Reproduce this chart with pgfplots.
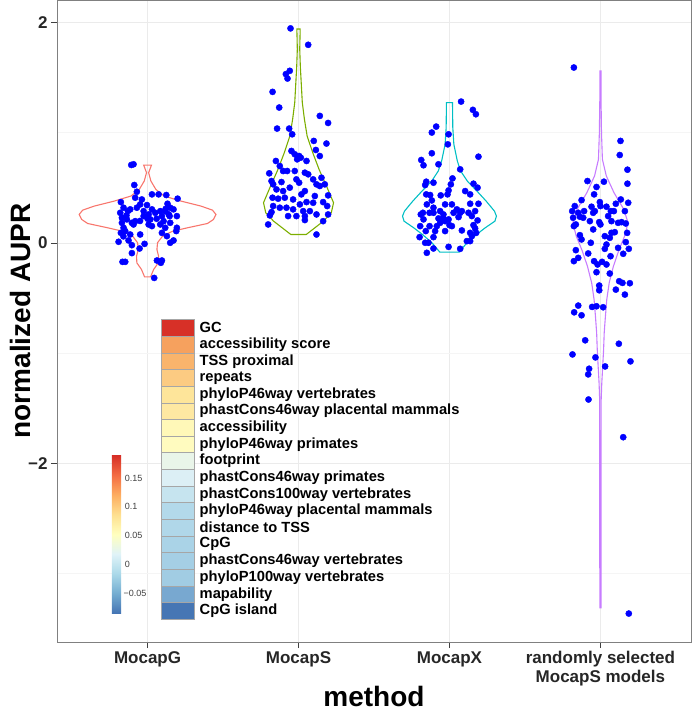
\documentclass[border=0pt]{standalone}
\usepackage{pgfplots}
\pgfplotsset{compat=1.18}
\usepackage{fontspec}
\setmainfont{Liberation Sans}
\definecolor{vG}{HTML}{F8766D}
\definecolor{vS}{HTML}{7CAE00}
\definecolor{vX}{HTML}{00BFC4}
\definecolor{vR}{HTML}{C77CFF}
\definecolor{ptblue}{HTML}{0000FF}
\definecolor{cb1}{HTML}{4575B4}
\definecolor{cb2}{HTML}{74ADD1}
\definecolor{cb3}{HTML}{ABD9E9}
\definecolor{cb4}{HTML}{E0F3F8}
\definecolor{cb5}{HTML}{FFFFBF}
\definecolor{cb6}{HTML}{FEE090}
\definecolor{cb7}{HTML}{FDAE61}
\definecolor{cb8}{HTML}{F46D43}
\definecolor{cb9}{HTML}{D73027}
\pgfdeclareverticalshading{rdylbu}{100bp}{color(0bp)=(cb1); color(25bp)=(cb1); color(31.25bp)=(cb2); color(37.5bp)=(cb3); color(43.75bp)=(cb4); color(50bp)=(cb5); color(56.25bp)=(cb6); color(62.5bp)=(cb7); color(68.75bp)=(cb8); color(75bp)=(cb9); color(100bp)=(cb9)}
\definecolor{t1}{HTML}{D73027}
\definecolor{t2}{HTML}{F6A15E}
\definecolor{t3}{HTML}{F9B46C}
\definecolor{t4}{HTML}{FCCB82}
\definecolor{t5}{HTML}{FEE59A}
\definecolor{t6}{HTML}{FEE8A2}
\definecolor{t7}{HTML}{FFF8B8}
\definecolor{t8}{HTML}{FFFBBF}
\definecolor{t9}{HTML}{E9F5E9}
\definecolor{t10}{HTML}{DCEFF5}
\definecolor{t11}{HTML}{C6E4EF}
\definecolor{t12}{HTML}{B3D9EA}
\definecolor{t13}{HTML}{B0D7E9}
\definecolor{t14}{HTML}{AAD3E7}
\definecolor{t15}{HTML}{A5CFE5}
\definecolor{t16}{HTML}{A1CCE3}
\definecolor{t17}{HTML}{78A8D0}
\definecolor{t18}{HTML}{4676B4}
\newcommand{\tile}[4]{%
  \addplot[fill=#1, draw=black!35, line width=0.5pt] coordinates {(1.089,#2) (1.309,#2) (1.309,#3) (1.089,#3)} -- cycle;
  \node[anchor=west, inner sep=0pt, font=\fontsize{14.7}{15}\selectfont\bfseries] at (axis cs:1.344,{(#2+#3)/2}) {#4};}
\begin{document}
\begin{tikzpicture}
\begin{axis}[
  at={(57pt,71pt)}, anchor=south west,
  scale only axis, width=634pt, height=641.5pt,
  xmin=0.4, xmax=4.6, ymin=-3.62, ymax=2.2,
  xtick={1,2,3,4},
  xticklabels={MocapG, MocapS, MocapX, {randomly selected\\MocapS models}},
  xticklabel style={align=center, font=\fontsize{17}{19}\selectfont\bfseries, text=black!85},
  ytick={-2,0,2}, yticklabels={−2,0,2},
  yticklabel style={font=\fontsize{17}{17}\selectfont\bfseries, text=black!85},
  minor ytick={-3,-1,1},
  xmajorgrids, ymajorgrids, yminorgrids,
  major grid style={draw=black!8, line width=0.7pt},
  minor grid style={draw=black!4, line width=0.6pt},
  tick align=outside, tick pos=left,
  major tick length=6pt, minor tick length=0pt,
  tick style={black!75, line width=0.7pt},
  axis line style={black!50, line width=0.9pt},
]
% violins
\addplot[vG, line width=1.1pt] coordinates {
(1.020,-0.307) (1.040,-0.241) (1.071,-0.180) (1.073,-0.120) (1.062,-0.059) (1.066,0.002) (1.099,0.062) (1.166,0.107) (1.265,0.138) (1.397,0.177) (1.437,0.214) (1.453,0.259) (1.430,0.298) (1.353,0.335) (1.221,0.380) (1.110,0.426) (1.055,0.486) (1.022,0.562) (1.007,0.638) (1.026,0.707)
(0.974,0.707) (0.993,0.638) (0.978,0.562) (0.945,0.486) (0.890,0.426) (0.779,0.380) (0.647,0.335) (0.570,0.298) (0.547,0.259) (0.563,0.214) (0.603,0.177) (0.735,0.138) (0.834,0.107) (0.901,0.062) (0.934,0.002) (0.938,-0.059) (0.927,-0.120) (0.929,-0.180) (0.960,-0.241) (0.980,-0.307)} -- cycle;
\addplot[vS, line width=1.1pt] coordinates {
(2.051,0.077) (2.166,0.199) (2.217,0.274) (2.232,0.365) (2.185,0.517) (2.136,0.668) (2.094,0.820) (2.057,0.971) (2.039,1.123) (2.025,1.275) (2.019,1.426) (2.012,1.600) (2.008,1.759) (2.011,1.941)
(1.989,1.941) (1.992,1.759) (1.988,1.600) (1.981,1.426) (1.975,1.275) (1.961,1.123) (1.943,0.971) (1.906,0.820) (1.864,0.668) (1.815,0.517) (1.768,0.365) (1.783,0.274) (1.834,0.199) (1.949,0.077)} -- cycle;
\addplot[vX, line width=1.1pt] coordinates {
(3.064,-0.083) (3.116,0.002) (3.179,0.077) (3.237,0.138) (3.301,0.198) (3.311,0.244) (3.298,0.289) (3.243,0.380) (3.182,0.471) (3.118,0.562) (3.074,0.653) (3.052,0.744) (3.029,0.895) (3.022,1.047) (3.020,1.274)
(2.980,1.274) (2.978,1.047) (2.971,0.895) (2.948,0.744) (2.926,0.653) (2.882,0.562) (2.818,0.471) (2.757,0.380) (2.702,0.289) (2.689,0.244) (2.699,0.198) (2.763,0.138) (2.821,0.077) (2.884,0.002) (2.936,-0.083)} -- cycle;
\addplot[vR, line width=1.1pt] coordinates {
(4.004,-3.31) (4.005,-1.42) (4.009,-1.27) (4.015,-1.12) (4.021,-0.968) (4.025,-0.816) (4.033,-0.665) (4.042,-0.514) (4.058,-0.362) (4.086,-0.211) (4.121,-0.07) (4.160,0.062) (4.183,0.183) (4.155,0.305) (4.090,0.456) (4.039,0.608) (4.013,0.759) (4.007,1.002) (4.004,1.305) (4.004,1.562)
(3.996,1.562) (3.996,1.305) (3.993,1.002) (3.987,0.759) (3.961,0.608) (3.910,0.456) (3.845,0.305) (3.817,0.183) (3.840,0.062) (3.879,-0.07) (3.914,-0.211) (3.942,-0.362) (3.958,-0.514) (3.967,-0.665) (3.975,-0.816) (3.979,-0.968) (3.985,-1.12) (3.991,-1.27) (3.995,-1.42) (3.996,-3.31)} -- cycle;
% points
\addplot[only marks, mark=*, mark size=3.1pt, ptblue, mark options={draw=none, fill=ptblue}] coordinates {
(0.892,0.708) (0.907,0.714) (0.912,0.526) (0.929,0.465) (1.029,0.441) (1.073,0.441) (1.124,0.435) (1.199,0.402)
(0.823,0.371) (0.918,0.411) (0.962,0.395) (0.951,0.350)
(0.841,0.320) (0.885,0.305) (0.929,0.320) (0.996,0.344) (0.974,0.289) (1.029,0.305) (1.051,0.274) (1.084,0.289) (1.117,0.289) (1.132,0.356) (1.150,0.320) (1.172,0.305) (1.146,0.244)
(0.819,0.274) (0.830,0.229) (0.863,0.214) (0.896,0.183) (0.918,0.198) (0.974,0.244) (1.007,0.259) (1.018,0.214) (1.095,0.244) (1.106,0.198) (1.194,0.244)
(0.830,0.183) (0.841,0.138) (0.907,0.168) (1.007,0.168) (1.029,0.153) (1.084,0.168) (1.150,0.183) (1.117,0.138) (1.194,0.138) (1.190,0.108)
(0.823,0.092) (0.852,0.108) (0.885,0.077) (0.951,0.077) (1.095,0.092) (1.128,0.062) (1.150,0.002) (1.172,0.023)
(0.808,0.011) (0.874,0.023) (0.896,-0.020) (0.980,-0.008) (0.947,-0.050) (0.896,-0.092) (0.852,-0.171) (0.834,-0.171) (1.062,-0.159) (1.088,-0.180) (1.095,-0.159) (1.044,-0.317)
(0.86,0.25) (0.87,0.29) (1.06,0.22) (1.14,0.26) (0.95,0.20) (1.00,0.22) (0.84,0.06) (1.12,0.31)
};
\addplot[only marks, mark=*, mark size=3.1pt, ptblue, mark options={draw=none, fill=ptblue}] coordinates {
(1.947,1.947) (2.064,1.798) (1.942,1.562) (1.916,1.532) (1.927,1.492) (1.828,1.371) (1.872,1.229) (2.141,1.153) (2.196,1.089) (1.858,1.038) (1.938,1.038) (1.958,0.986) (2.101,0.926) (2.185,0.902) (2.115,0.844) (2.141,0.789) (1.953,0.835) (1.975,0.805) (2.004,0.789) (2.015,0.774) (1.991,0.759) (2.053,0.744) (1.850,0.744) (1.876,0.698) (1.898,0.653) (1.925,0.653) (1.975,0.653) (2.042,0.638) (2.064,0.623) (1.806,0.632) (1.821,0.562) (1.832,0.532) (1.887,0.553) (1.986,0.577) (2.004,0.547) (2.097,0.577) (2.152,0.592) (2.119,0.532) (2.174,0.532) (2.141,0.517) (1.854,0.486) (1.898,0.471) (1.942,0.502) (2.042,0.471) (2.108,0.426) (2.196,0.432) (1.828,0.411) (1.865,0.402) (1.909,0.411) (1.964,0.395) (2.019,0.441) (2.053,0.371) (2.097,0.365) (2.163,0.371) (1.832,0.335) (1.876,0.320) (1.920,0.320) (1.964,0.305) (2.009,0.350) (2.031,0.289) (2.075,0.289) (2.190,0.335) (1.821,0.280) (1.810,0.250) (1.931,0.244) (1.986,0.244) (2.042,0.244) (2.119,0.259) (2.196,0.259)
(1.799,0.168) (2.042,0.208) (2.119,0.077) (2.163,0.198)
};
\addplot[only marks, mark=*, mark size=3.1pt, ptblue, mark options={draw=none, fill=ptblue}] coordinates {
(3.077,1.283) (3.155,1.208) (3.175,1.168) (2.912,1.056) (2.883,1.002) (2.994,0.986) (2.989,0.895) (3.192,0.783) (2.883,0.814) (2.813,0.753) (2.828,0.705) (2.927,0.714) (3.071,0.668) (3.020,0.586) (2.846,0.556) (2.839,0.526) (2.894,0.547) (3.009,0.532) (2.994,0.477) (3.159,0.538) (3.186,0.502) (3.104,0.471) (3.137,0.441) (2.846,0.441) (2.872,0.435) (2.942,0.432) (2.987,0.441) (2.883,0.386) (2.850,0.350) (2.894,0.320) (2.971,0.350) (3.016,0.350) (3.049,0.305) (3.082,0.289) (3.137,0.356) (3.192,0.356) (2.824,0.274) (2.810,0.259) (2.868,0.274) (2.894,0.274) (2.938,0.289) (2.960,0.259) (3.027,0.274) (3.071,0.274) (3.126,0.274) (3.170,0.289) (2.927,0.223) (2.960,0.223) (2.938,0.183) (2.971,0.198) (2.994,0.214) (3.060,0.235) (3.148,0.244) (3.186,0.205) (2.828,0.214) (2.806,0.153) (2.868,0.153) (2.916,0.153) (3.000,0.162) (3.016,0.153) (3.159,0.162) (2.843,0.108) (2.905,0.108) (2.971,0.108) (3.082,0.114) (3.170,0.132) (3.137,0.092) (3.177,0.092) (2.802,0.053) (2.894,0.053) (3.148,0.062) (3.115,0.017) (3.137,0.017) (2.861,0.002) (2.839,0.002) (2.894,-0.050) (2.850,-0.089) (2.994,-0.035) (3.071,-0.053)
};
\addplot[only marks, mark=*, mark size=3.1pt, ptblue, mark options={draw=none, fill=ptblue}] coordinates {
(3.824,1.592) (4.133,0.926) (4.128,0.798) (4.179,0.665) (4.179,0.538) (3.914,0.562) (3.974,0.508) (4.023,0.556) (3.958,0.441) (3.875,0.389) (4.135,0.395) (4.184,0.365) (4.102,0.356) (3.830,0.335) (3.941,0.329) (3.996,0.371) (4.040,0.329) (3.813,0.289) (3.853,0.274) (3.892,0.289) (3.963,0.289) (4.000,0.335) (4.069,0.289) (4.089,0.289) (4.162,0.289) (3.819,0.229) (3.864,0.238) (3.886,0.229) (3.930,0.198) (3.952,0.274) (3.992,0.189) (4.000,0.168) (4.051,0.244) (4.073,0.198) (4.117,0.183) (4.140,0.189) (4.168,0.177) (3.824,0.153) (3.837,0.168) (3.952,0.123) (3.864,0.071) (3.875,0.032) (4.029,0.062) (4.073,0.092) (4.095,0.098) (4.062,0.047) (4.177,0.092) (3.936,0.002) (4.040,-0.014) (4.117,-0.044) (4.168,0.008) (3.837,-0.065) (3.919,-0.095) (4.029,-0.053) (4.188,-0.053) (4.151,-0.098) (4.067,-0.120) (3.853,-0.135)
(3.824,-0.165) (3.958,-0.165) (3.981,-0.195) (4.011,-0.171) (4.040,-0.195) (3.974,-0.265) (4.062,-0.277) (3.992,-0.386) (3.992,-0.429) (4.124,-0.347) (4.146,-0.362) (4.195,-0.365) (4.102,-0.423) (4.162,-0.468) (3.853,-0.568) (3.826,-0.629) (3.875,-0.656) (3.945,-0.580) (3.974,-0.574) (4.018,-0.583) (3.899,-0.883) (4.122,-0.914) (3.815,-1.011) (3.967,-1.038) (4.199,-1.074) (4.031,-1.120) (3.925,-1.141) (3.919,-1.192) (3.921,-1.420) (4.151,-1.762) (4.188,-3.362)
};
% legend tiles
\tile{t1}{-0.695}{-0.846}{GC}
\tile{t2}{-0.846}{-0.997}{accessibility score}
\tile{t3}{-0.997}{-1.148}{TSS proximal}
\tile{t4}{-1.148}{-1.299}{repeats}
\tile{t5}{-1.299}{-1.450}{phyloP46way vertebrates}
\tile{t6}{-1.450}{-1.601}{phastCons46way placental mammals}
\tile{t7}{-1.601}{-1.752}{accessibility}
\tile{t8}{-1.752}{-1.903}{phyloP46way primates}
\tile{t9}{-1.903}{-2.054}{footprint}
\tile{t10}{-2.054}{-2.205}{phastCons46way primates}
\tile{t11}{-2.205}{-2.356}{phastCons100way vertebrates}
\tile{t12}{-2.356}{-2.507}{phyloP46way placental mammals}
\tile{t13}{-2.507}{-2.658}{distance to TSS}
\tile{t14}{-2.658}{-2.809}{CpG}
\tile{t15}{-2.809}{-2.960}{phastCons46way vertebrates}
\tile{t16}{-2.960}{-3.111}{phyloP100way vertebrates}
\tile{t17}{-3.111}{-3.262}{mapability}
\tile{t18}{-3.262}{-3.413}{CpG island}
% colour bar
\shade[shading=rdylbu] (axis cs:0.764,-3.357) rectangle (axis cs:0.824,-1.932);
\begin{scope}[every node/.style={anchor=west, inner sep=0pt, font=\fontsize{9}{9}\selectfont, text=black!75}]
\node at (axis cs:0.848,-2.132) {0.15};
\node at (axis cs:0.848,-2.393) {0.1};
\node at (axis cs:0.848,-2.650) {0.05};
\node at (axis cs:0.848,-2.914) {0};
\node at (axis cs:0.840,-3.177) {−0.05};
\end{scope}
\end{axis}
\node[rotate=90, font=\fontsize{28}{28}\selectfont\bfseries] at (20pt,392pt) {normalized AUPR};
\node[font=\fontsize{28}{28}\selectfont\bfseries, inner sep=0pt, anchor=base] at (374pt,6.5pt) {method};
\pgfresetboundingbox
\useasboundingbox (0,0) rectangle (692pt,713pt);
\end{tikzpicture}
\end{document}
